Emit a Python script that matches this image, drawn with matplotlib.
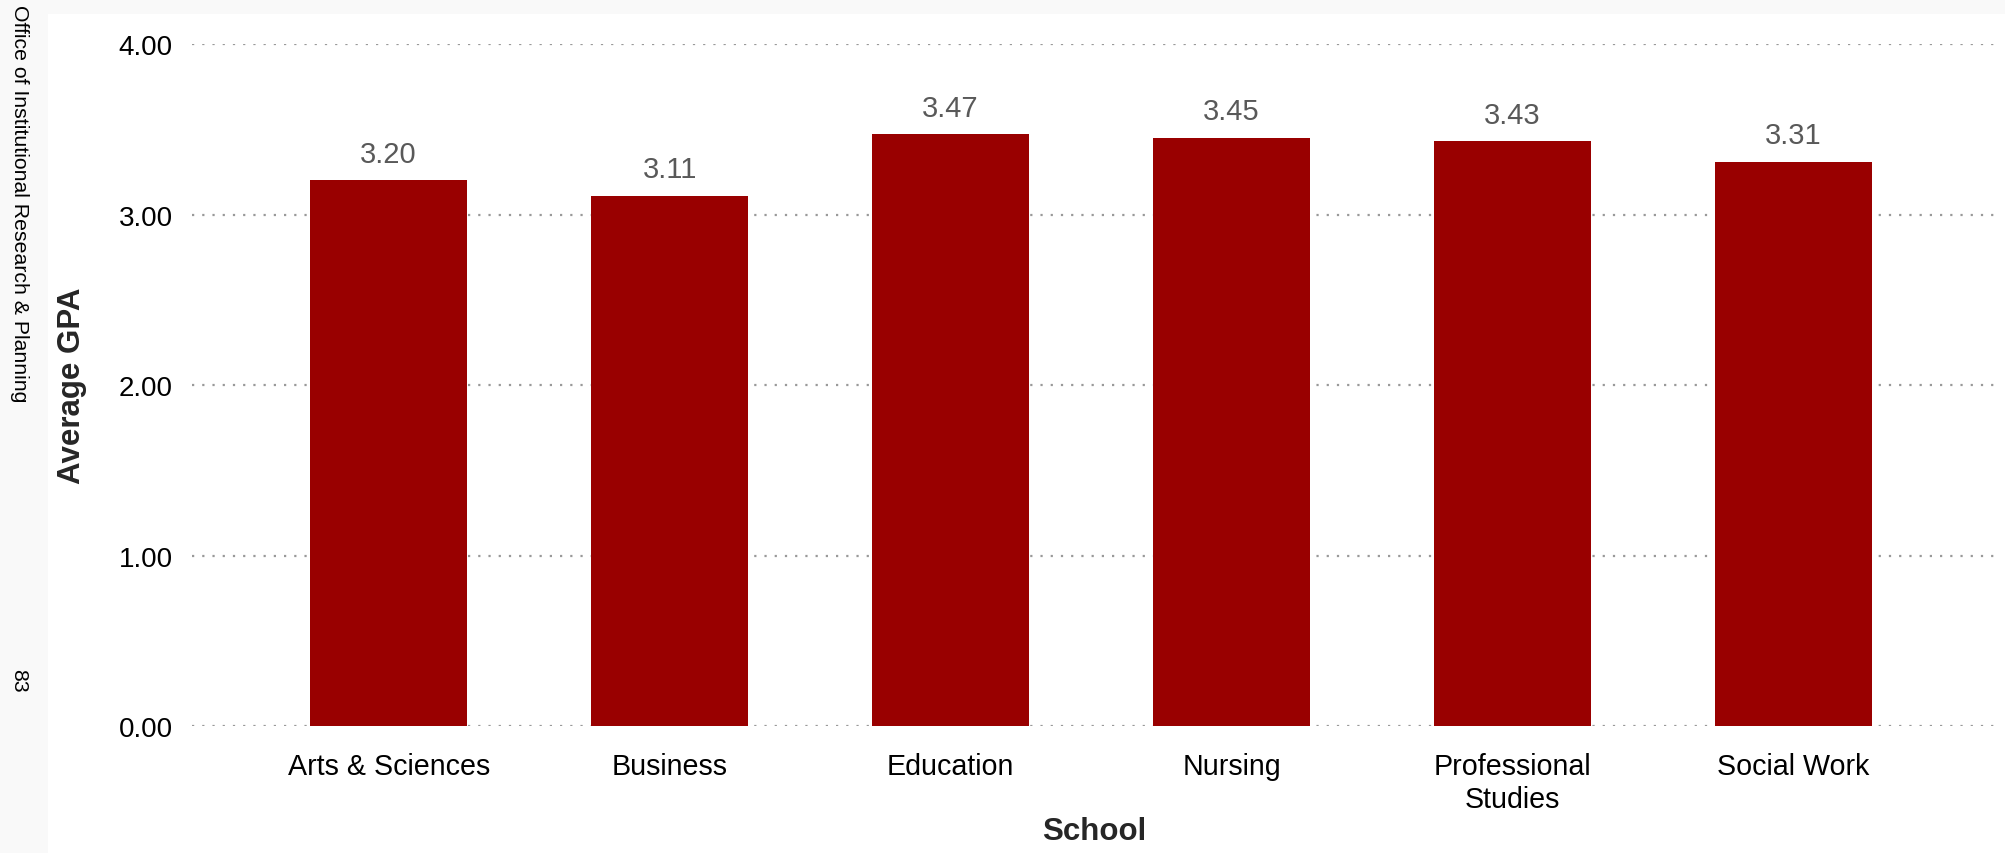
import matplotlib
matplotlib.use('Agg')
import matplotlib.pyplot as plt
from matplotlib.patches import Rectangle

# ---------------------------------------------------------------------------
# Data
# ---------------------------------------------------------------------------
SCHOOLS = ['Arts & Sciences', 'Business', 'Education', 'Nursing',
           'Professional\nStudies', 'Social Work']
AVG_GPA = [3.20, 3.11, 3.47, 3.45, 3.43, 3.31]
Y_TICKS = [0.0, 1.0, 2.0, 3.0, 4.0]

BAR_COLOR = '#990000'
LABEL_COLOR = '#595959'

plt.rcParams['font.family'] = ['Liberation Sans', 'DejaVu Sans']

fig = plt.figure(figsize=(20.06, 8.54), dpi=100, facecolor='#f9f9f9')
# white page panel (behind everything)
fig.patches.append(Rectangle((48 / 2006, 0), 1, 1 - 15 / 854,
                             transform=fig.transFigure, facecolor='white',
                             edgecolor='none', zorder=-10))

ax = fig.add_axes([0.0957, 0.1487, 0.8993, 0.7986])
ax.set_facecolor('none')

x = list(range(len(SCHOOLS)))
bars = ax.bar(x, AVG_GPA, width=0.56, color=BAR_COLOR, zorder=2)

for b, v in zip(bars, AVG_GPA):
    ax.annotate(f'{v:.2f}', (b.get_x() + b.get_width() / 2, v),
                xytext=(0, 9), textcoords='offset points',
                ha='center', va='bottom', fontsize=21, color=LABEL_COLOR)

ax.set_xlim(-0.7, len(SCHOOLS) - 1 + 0.72)
ax.set_ylim(0, 4.0)
ax.set_yticks(Y_TICKS)
ax.set_yticklabels([f'{t:.2f}' for t in Y_TICKS])
ax.set_xticks(x)
ax.set_xticklabels(SCHOOLS, linespacing=1.2)

ax.tick_params(axis='y', length=0, pad=14, labelsize=20, labelcolor='black')
ax.tick_params(axis='x', length=0, pad=19, labelsize=20.6, labelcolor='black')

ax.grid(axis='y', color='#999999', linewidth=1.6, linestyle=(0, (1, 3.6)),
        zorder=1)
ax.set_axisbelow(True)
for s in ax.spines.values():
    s.set_visible(False)

ax.set_ylabel('Average GPA', fontsize=22.5, fontweight='bold', color='#262626')
ax.yaxis.set_label_coords(-0.058, 0.5)
ax.set_xlabel('School', fontsize=22.5, fontweight='bold', color='#262626')
ax.xaxis.set_label_coords(0.5, -0.132)

fig.text(19 / 2006, 1 - 5 / 854, 'Office of Institutional Research & Planning',
         rotation=270, ha='center', va='top', fontsize=15.3, color='black')
fig.text(19 / 2006, 1 - 681 / 854, '83', rotation=270, ha='center',
         va='center', fontsize=15.3, color='black')

fig.savefig('out.png', dpi=100, facecolor=fig.get_facecolor())
